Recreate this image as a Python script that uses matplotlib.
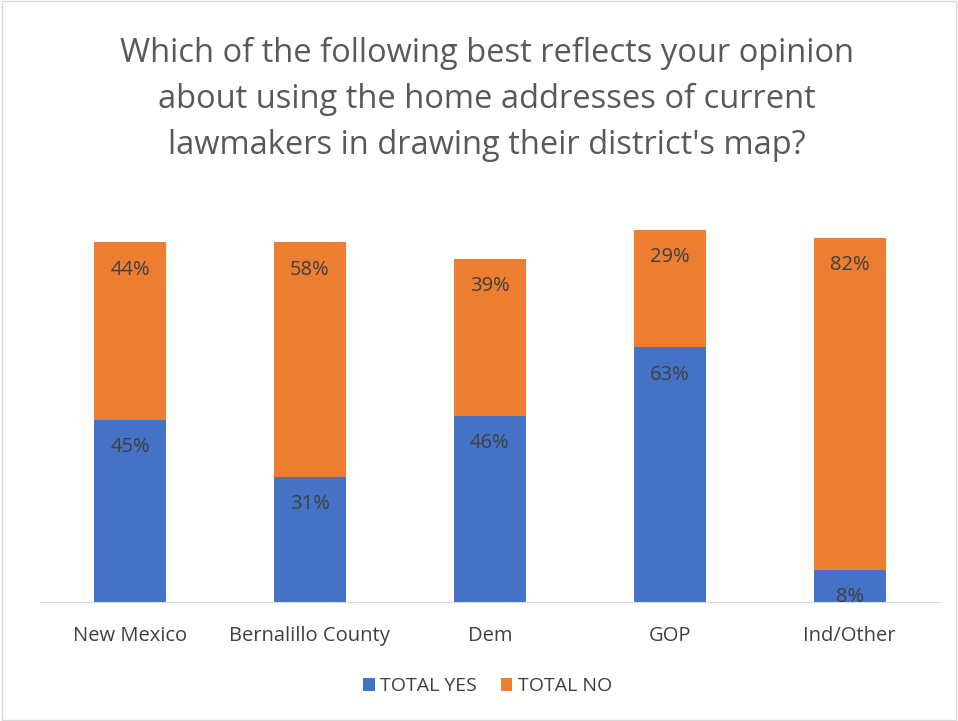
import matplotlib.pyplot as plt
from matplotlib.patches import Rectangle

categories = ["New Mexico", "Bernalillo County", "Dem", "GOP", "Ind/Other"]
total_yes = [45, 31, 46, 63, 8]
total_no = [44, 58, 39, 29, 82]

plt.rcParams['font.family'] = ['Open Sans', 'DejaVu Sans']
text_color = "#404040"
blue = "#4472C4"
orange = "#ED7D31"

fig = plt.figure(figsize=(9.58, 7.21), dpi=100)
ax = fig.add_axes([0.0418, 0.165, 0.939, 0.5604])

x = list(range(len(categories)))
bar_width = 0.4
ax.bar(x, total_yes, width=bar_width, color=blue, label="TOTAL YES")
ax.bar(x, total_no, width=bar_width, bottom=total_yes, color=orange, label="TOTAL NO")

# labels sit just inside the top of each segment
for i in x:
    ax.text(i, total_yes[i] - 6.7, f"{total_yes[i]}%", ha="center", va="center",
            fontsize=14.5, color=text_color)
    ax.text(i, total_yes[i] + total_no[i] - 6.7, f"{total_no[i]}%", ha="center",
            va="center", fontsize=14.5, color=text_color)

ax.set_xlim(-0.5, 4.5)
ax.set_ylim(0, 100)
ax.set_xticks(x)
ax.set_xticklabels(categories, fontsize=14.5, color=text_color)
ax.tick_params(axis="x", length=0, pad=17)
ax.set_yticks([])
for side in ["top", "left", "right"]:
    ax.spines[side].set_visible(False)
ax.spines["bottom"].set_color("#D9D9D9")

fig.text(0.508, 0.8625,
         "Which of the following best reflects your opinion\n"
         "about using the home addresses of current\n"
         "lawmakers in drawing their district's map?",
         ha="center", va="center", fontsize=23.5, color="#595959", linespacing=1.52)

fig.legend(loc="center", bbox_to_anchor=(0.509, 0.048), ncol=2, frameon=False,
           fontsize=14, labelcolor=text_color, handlelength=0.6, handleheight=0.6,
           columnspacing=1.2, handletextpad=0.3)

fig.patches.append(Rectangle((0.002, 0.002), 0.996, 0.996, transform=fig.transFigure,
                             fill=False, edgecolor="#D9D9D9", linewidth=1))

fig.savefig("out.png", dpi=100)
